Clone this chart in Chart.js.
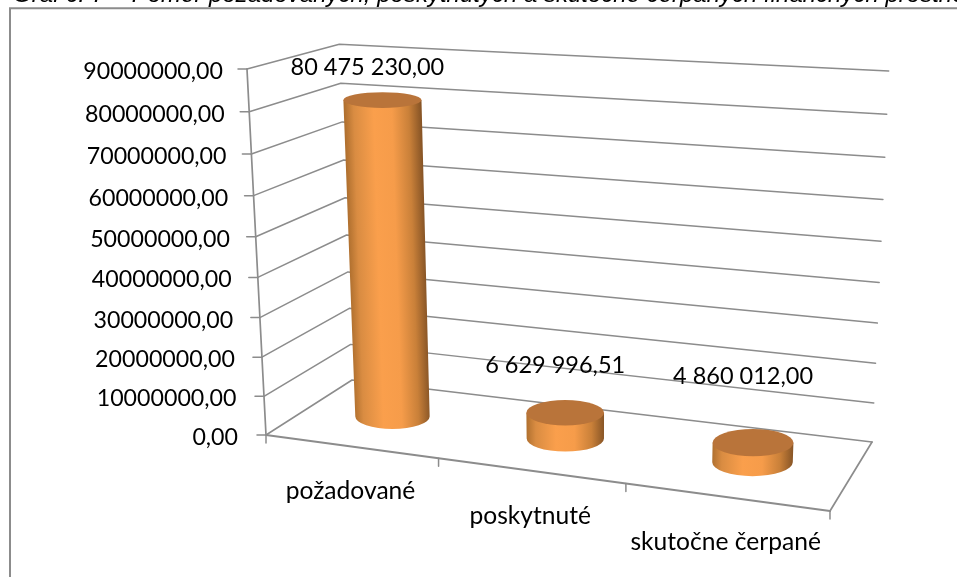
<!DOCTYPE html>
<html><head><meta charset="utf-8">
<style>html,body{margin:0;padding:0;background:#fff;overflow:hidden}canvas{display:block}</style>
<script src="https://cdn.jsdelivr.net/npm/chart.js@4"></script>
</head><body><canvas id="c" width="957" height="577"></canvas>
<script>
const categories = ['požadované', 'poskytnuté', 'skutočne čerpané'];
const values = [80475230.00, 6629996.51, 4860012.00];
const axisMax = 90000000;
const axisStep = 10000000;
const caption = 'Graf č. 7 – Pomer požadovaných, poskytnutých a skutočne čerpaných finančných prostriedkov';

const LINE = '#8c8c8c', FONT = '"Lato"';
let area = null;
// perspective of the 3D box: u along categories, d into depth, t up the value axis
function P(u, d, t) {
  const w = 1 - .1183 * u + .0942 * d - .055 * t;
  return { x: (465.8 * u + 119.2 * d - 32.6 * t + 266) / w,
           y: (15.6 * u - 19.2 * d - 369.8 * t + 3.7 * u * t + 435) / w, w };
}
const U = x => (x - area.left) / (area.right - area.left);
const T = y => (area.bottom - y) / (area.bottom - area.top);
const fmtTick = v => v.toFixed(2).replace('.', ',');
const fmtVal = v => { const [a, b] = v.toFixed(2).split('.'); return a.replace(/\B(?=(\d{3})+$)/g, ' ') + ',' + b; };
function seg(ctx, a, b, lw) { ctx.lineWidth = lw; ctx.beginPath(); ctx.moveTo(a.x, a.y); ctx.lineTo(b.x, b.y); ctx.stroke(); }

Chart.BarElement.prototype.draw = function (ctx) {
  const { x, y, base } = this.getProps(['x', 'y', 'base']);
  const u = U(x), R = 38.2;
  const top = P(u, .5, T(y)), bot = P(u, .5, T(base));
  const rxT = R / top.w, rxB = R / bot.w;
  const ryT = 3 + .165 * Math.abs(P(u, 1, T(y)).y - P(u, 0, T(y)).y);
  const ryB = 3 + .165 * Math.abs(P(u, 1, T(base)).y - P(u, 0, T(base)).y);
  const len = Math.hypot(bot.x - top.x, bot.y - top.y), ax = (bot.x - top.x) / len, ay = (bot.y - top.y) / len;
  const mx = (top.x + bot.x) / 2, my = (top.y + bot.y) / 2, r = (rxT + rxB) / 2;
  const g = ctx.createLinearGradient(mx - ay * r, my + ax * r, mx + ay * r, my - ax * r);
  g.addColorStop(0, '#b0702f'); g.addColorStop(.12, '#d98c42'); g.addColorStop(.38, '#fa9f4c');
  g.addColorStop(.62, '#f69c4a'); g.addColorStop(.84, '#c98039'); g.addColorStop(1, '#885526');
  ctx.save();
  ctx.fillStyle = g; ctx.beginPath();
  ctx.moveTo(top.x - rxT, top.y); ctx.lineTo(bot.x - rxB, bot.y);
  ctx.ellipse(bot.x, bot.y, rxB, ryB, 0, Math.PI, 0, true);
  ctx.lineTo(top.x + rxT, top.y); ctx.closePath(); ctx.fill();
  ctx.fillStyle = '#b9743a'; ctx.beginPath();
  ctx.ellipse(top.x, top.y, rxT, ryT, 0, 0, Math.PI * 2); ctx.fill();
  ctx.restore();
};

const box3d = {
  id: 'box3d',
  beforeDatasetsDraw(c) {
    area = c.chartArea;
    const ctx = c.ctx, ys = c.scales.y;
    ctx.save();
    ctx.fillStyle = '#000'; ctx.textBaseline = 'alphabetic'; ctx.textAlign = 'left';
    ctx.font = 'italic 24px "Liberation Sans"';
    ctx.fillText(caption, 13, 2);
    ctx.fillStyle = '#fff'; ctx.fillRect(10, 8, 947, 569);
    ctx.strokeStyle = LINE; ctx.lineWidth = 2;
    ctx.beginPath(); ctx.moveTo(10, 577); ctx.lineTo(10, 8.3); ctx.lineTo(957, 8.3); ctx.stroke();
    ctx.lineCap = 'round'; ctx.lineJoin = 'round';
    ys.ticks.forEach(tk => {
      const t = T(ys.getPixelForValue(tk.value));
      const a = P(0, 0, t), b = P(0, 1, t), e = P(1, 1, t);
      ctx.lineWidth = 1.5; ctx.beginPath(); ctx.moveTo(a.x, a.y); ctx.lineTo(b.x, b.y); ctx.lineTo(e.x, e.y); ctx.stroke();
      seg(ctx, { x: a.x - 9, y: a.y }, a, 1.5);
      ctx.fillStyle = '#000'; ctx.font = '23.2px ' + FONT; ctx.textAlign = 'right'; ctx.textBaseline = 'middle';
      ctx.fillText(fmtTick(tk.value), a.x - 24 - 4 * (1 - t), a.y + 2.5);
    });
    seg(ctx, P(0, 0, 0), P(0, 0, 1), 1.7);
    seg(ctx, P(0, 0, 0), P(1, 0, 0), 2);
    seg(ctx, P(1, 0, 0), P(1, 1, 0), 1.7);
    const xs = c.scales.x, n = categories.length;
    for (let i = 0; i <= n; i++) {
      const a = P(i / n, 0, 0);
      seg(ctx, a, { x: a.x, y: a.y + 8 }, 1.5);
    }
    ctx.fillStyle = '#000'; ctx.font = '24.6px ' + FONT; ctx.textAlign = 'center'; ctx.textBaseline = 'middle';
    categories.forEach((cat, i) => {
      const a = P(U(xs.getPixelForValue(i)), 0, 0);
      ctx.fillText(cat, a.x, a.y + 45);
    });
    ctx.restore();
  },
  afterDatasetsDraw(c) {
    const ctx = c.ctx, offs = [[-15, -33], [-10, -47], [-10, -66]];
    ctx.save();
    ctx.fillStyle = '#000'; ctx.font = '23.5px ' + FONT; ctx.textAlign = 'center'; ctx.textBaseline = 'middle';
    c.getDatasetMeta(0).data.forEach((el, i) => {
      const p = P(U(el.x), .5, T(el.y));
      ctx.fillText(fmtVal(values[i]), p.x + offs[i][0], p.y + offs[i][1]);
    });
    ctx.restore();
  }
};

new Chart(document.getElementById('c').getContext('2d'), {
  type: 'bar',
  data: { labels: categories, datasets: [{ data: values, backgroundColor: '#f79646' }] },
  options: {
    responsive: false, animation: false,
    plugins: { legend: { display: false }, tooltip: { enabled: false } },
    layout: { padding: 0 },
    scales: {
      x: { display: false, offset: true },
      y: { display: false, min: 0, max: axisMax, ticks: { stepSize: axisStep } }
    }
  },
  plugins: [box3d]
});
</script></body></html>
